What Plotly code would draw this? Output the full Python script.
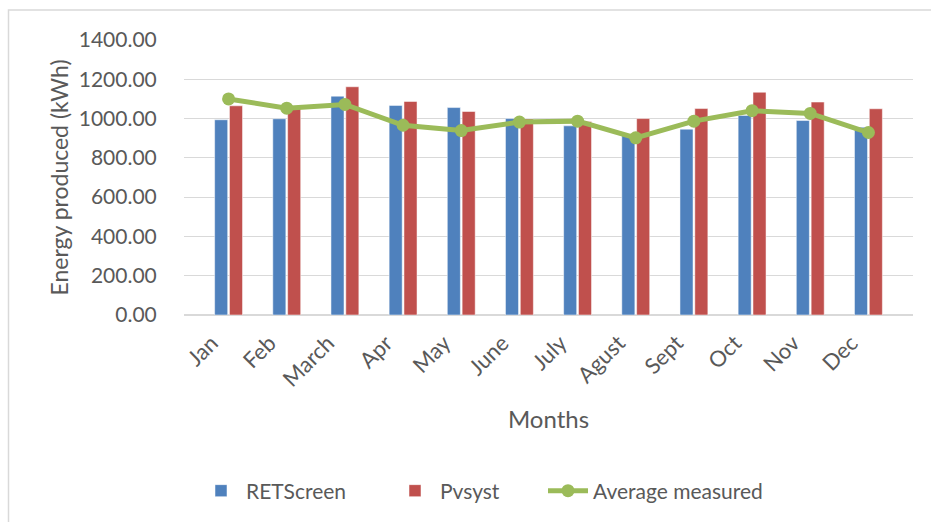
import plotly.graph_objects as go

months = ["Jan", "Feb", "March", "Apr", "May", "June", "July", "Agust", "Sept", "Oct", "Nov", "Dec"]
retscreen = [994, 999, 1114, 1067, 1056, 1000, 963, 914, 946, 1016, 990, 956]
pvsyst = [1065, 1052, 1162, 1087, 1036, 998, 985, 1000, 1051, 1134, 1084, 1050]
average_measured = [1100, 1053, 1072, 966, 939, 982, 987, 902, 987, 1040, 1026, 929]
y_ticks = [0, 200, 400, 600, 800, 1000, 1200, 1400]

FONT = "Lato, 'Open Sans', sans-serif"
TXT = "#595959"

fig = go.Figure()
fig.add_trace(go.Bar(x=months, y=retscreen, name="RETScreen", legend="legend",
                     marker=dict(color="#4F81BD", line=dict(color="white", width=0.5))))
fig.add_trace(go.Bar(x=months, y=pvsyst, name="Pvsyst", legend="legend2",
                     marker=dict(color="#C0504D", line=dict(color="white", width=0.5))))
fig.add_trace(go.Scatter(x=months, y=average_measured, name="Average measured", legend="legend3",
                         mode="lines+markers",
                         line=dict(color="#9BBB59", width=5),
                         marker=dict(color="#9BBB59", size=13)))


def leg(px):
    return dict(orientation="h", x=(px - 184) / 729, xanchor="left", y=-0.64, yanchor="middle",
                font=dict(size=21, color=TXT), itemwidth=40, bgcolor="rgba(0,0,0,0)")


fig.update_layout(
    width=931, height=522,
    margin=dict(l=184, r=18, t=40, b=207, autoexpand=False),
    paper_bgcolor="white", plot_bgcolor="white",
    font=dict(family=FONT, color=TXT, size=21),
    barmode="group", bargap=0.49, bargroupgap=0.12,
    showlegend=True,
    legend=leg(196), legend2=leg(390), legend3=leg(543),
    xaxis=dict(tickangle=-45, tickfont=dict(size=22, color=TXT), automargin=False,
               ticklabelshift=-17, ticklabelstandoff=10,
               title=dict(text="Months", font=dict(size=24, color=TXT), standoff=20),
               showline=False, showgrid=False, ticks=""),
    yaxis=dict(range=[0, 1400], tickvals=y_ticks, ticktext=[f"{v:.2f}" for v in y_ticks],
               tickfont=dict(size=21, color=TXT), gridcolor="#D9D9D9", gridwidth=1.3,
               zeroline=True, zerolinecolor="#D9D9D9", zerolinewidth=1.5, automargin=False,
               ticks="outside", ticklen=0, ticklabelstandoff=22,
               title=dict(text="Energy produced (kWh)", font=dict(size=23, color=TXT), standoff=3)),
    shapes=[dict(type="rect", xref="paper", yref="paper",
                 x0=(8.5 - 184) / 729, x1=(935 - 184) / 729,
                 y0=(315 - 530) / 275, y1=(315 - 10) / 275,
                 line=dict(color="#D9D9D9", width=1.5), fillcolor="rgba(0,0,0,0)", layer="below")],
)

fig.write_html("out.html", config={"displayModeBar": False},
               post_script="document.body.style.margin='0';")
